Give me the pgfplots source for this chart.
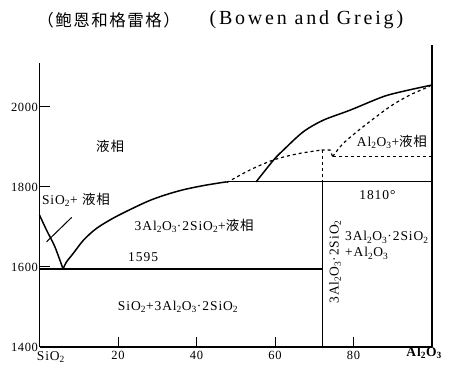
\documentclass[border=0pt]{standalone}
\usepackage{fontspec}
\setmainfont{Liberation Serif}
\newfontfamily\cjk{Noto Sans CJK SC}
\usepackage{pgfplots}
\pgfplotsset{compat=1.18}
\newcommand{\sub}[1]{\textsubscript{#1}}
\newcommand{\ye}{{\cjk\addfontfeature{LetterSpace=6} 液相}}
\newcommand{\mull}{3Al\sub{2}O\sub{3}·2SiO\sub{2}}
\newcommand{\lab}{\fontsize{13.5}{16}\selectfont\addfontfeature{LetterSpace=7}}
\begin{document}
\begin{tikzpicture}
\begin{axis}[
  scale only axis, width=392.5pt, height=284pt,
  xmin=0, xmax=100, ymin=1400, ymax=2110,
  axis x line=bottom, axis y line=left,
  axis line style={-, line width=1.3pt},
  tick style={black, line width=1pt},
  tick align=inside, major tick length=10pt,
  xtick={20,40,60,80}, ytick={1400,1600,1800,2000},
  /pgf/number format/assume math mode=true,
  /pgf/number format/1000 sep={},
  tick label style={font=\fontsize{12.5}{14}\selectfont\addfontfeature{LetterSpace=5}},
  yticklabel style={xshift=2pt},
  xticklabel style={yshift=-1pt},
  clip=false,
]
\coordinate (bl) at (axis cs:-10.064,1350);
\coordinate (tr) at (axis cs:105.096,2267.5);
% right border
\addplot[black, line width=1.3pt] coordinates {(100,1400) (100,2155)};
% SiO2 liquidus
\addplot[black, line width=1.5pt, smooth] coordinates {(0,1730) (1.8,1692) (3.9,1651) (6,1595)};
% mullite liquidus
\addplot[black, line width=1.5pt, smooth] coordinates {(6,1595) (6.9,1613) (8.6,1634) (11.2,1667) (14.6,1697) (19.7,1727) (27.3,1763) (32,1780) (36.6,1793) (42,1804) (47.7,1813)};
% upper liquidus (solid)
\addplot[black, line width=1.5pt, smooth] coordinates {(55.2,1813) (59.6,1867) (62.1,1892) (67.2,1938) (72.3,1967) (79.1,1992) (87.6,2026) (93,2040) (100,2055)};
% dashed metastable
\addplot[black, line width=1.2pt, dashed, smooth] coordinates {(47.7,1811) (53.6,1842.5) (59.6,1867.5) (65.5,1882.5) (71.9,1892.5)};
\addplot[black, line width=1.2pt, dashed] coordinates {(71.9,1892.5) (74,1892.5) (74.7,1876)};
\addplot[black, line width=1.2pt, dashed] coordinates {(74.7,1876) (100,1876)};
\addplot[black, line width=1.2pt, dashed, smooth] coordinates {(74.7,1876) (77.4,1909) (82.5,1951) (89.3,2001) (94.4,2030) (99.5,2052)};
\addplot[black, line width=1.2pt, dashed] coordinates {(72,1892.5) (72,1813)};
% vertical mullite line
\addplot[black, line width=1.1pt] coordinates {(72,1813) (72,1400)};
% horizontals
\addplot[black, line width=1.1pt] coordinates {(0,1595) (72,1595)};
\addplot[black, line width=1.1pt] coordinates {(47.7,1813) (100,1813)};
% pointer
\addplot[black, line width=1pt] coordinates {(1.8,1663) (8.2,1724)};
% labels
\node at (axis cs:17.6,2217) {\fontsize{16.5}{18}\selectfont\cjk\addfontfeature{LetterSpace=9}（鲍恩和格雷格）};
\node at (axis cs:68,2217) {\fontsize{20}{22}\selectfont\addfontfeature{LetterSpace=14}(Bowen and Greig)};
\node at (axis cs:18,1902) {\lab\ye};
\node[anchor=west, inner sep=0pt] at (axis cs:0.6,1768) {\lab SiO\sub{2}+ \ye};
\node at (axis cs:39.4,1702.5) {\lab \mull+\ye};
\node at (axis cs:26.4,1625) {\lab 1595};
\node at (axis cs:35.3,1500) {\lab SiO\sub{2}+\mull};
\node at (axis cs:89.8,1912.5) {\lab Al\sub{2}O\sub{3}+\ye};
\node at (axis cs:86.1,1780) {\lab 1810°};
\node[rotate=90] at (axis cs:75.3,1613) {\lab \mull};
\node[anchor=west, align=left, inner sep=0pt, font=\lab] at (axis cs:77.8,1654) {\mull\\+Al\sub{2}O\sub{3}};
\node at (axis cs:2.9,1375) {\lab SiO\sub{2}};
\node at (axis cs:98,1385) {\lab\bfseries Al\sub{2}O\sub{3}};
\end{axis}
\useasboundingbox (bl) rectangle (tr);
\end{tikzpicture}
\end{document}
